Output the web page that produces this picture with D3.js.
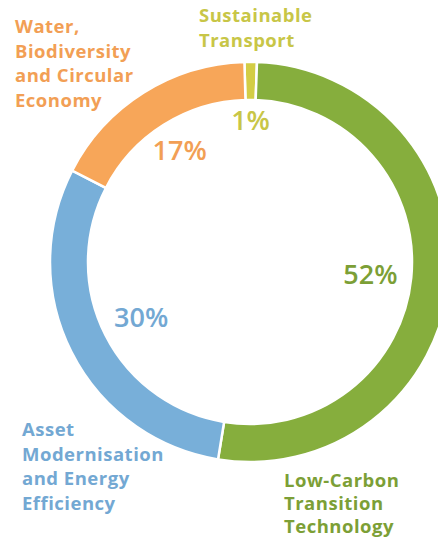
<!DOCTYPE html>
<html>
<head>
<meta charset="utf-8">
<script src="https://cdn.jsdelivr.net/npm/d3@7"></script>
<style>
  body { margin: 0; background: #fff; }
  svg { display: block; }
</style>
</head>
<body>
<div class="chart"></div>
<script>
// slices, clockwise from the top
const categories = ["Sustainable Transport", "Low-Carbon Transition Technology",
  "Asset Modernisation and Energy Efficiency", "Water, Biodiversity and Circular Economy"];
const shares = [1, 52, 30, 17];
const pctLabels = ["1%", "52%", "30%", "17%"];
const labelLines = [
  ["Sustainable", "Transport"],
  ["Low-Carbon", "Transition", "Technology"],
  ["Asset", "Modernisation", "and Energy", "Efficiency"],
  ["Water,", "Biodiversity", "and Circular", "Economy"]
];

const width = 438;
const height = 537;
const cx = 250, cy = 262;
const outerR = 200, innerR = 162;

const fills = ["#d3cd45", "#86ae3d", "#78afd9", "#f7a659"];
const textColors = ["#c8c647", "#7c9f36", "#73a8d3", "#f29f55"];

const svg = d3.select(".chart")
  .append("svg")
  .attr("width", width)
  .attr("height", height);

const data = categories.map((c, i) => ({name: c, value: shares[i], pct: pctLabels[i], lines: labelLines[i], i}));

const startA = -1.6 * Math.PI / 180;
const pie = d3.pie()
  .value(d => d.value)
  .sort(null)
  .startAngle(startA)
  .endAngle(startA + 2 * Math.PI);

const arc = d3.arc().innerRadius(innerR).outerRadius(outerR);

const g = svg.append("g").attr("transform", `translate(${cx},${cy})`);

g.selectAll("path")
  .data(pie(data))
  .join("path")
  .attr("d", arc)
  .attr("fill", d => fills[d.data.i])
  .attr("stroke", "#fff")
  .attr("stroke-width", 2.5);

// percentage labels inside the ring
const labelR = [142, 121, 122, 132];
g.selectAll("text.pct")
  .data(pie(data))
  .join("text")
  .attr("class", "pct")
  .attr("x", d => d3.arc().innerRadius(labelR[d.data.i]).outerRadius(labelR[d.data.i]).centroid(d)[0])
  .attr("y", d => d3.arc().innerRadius(labelR[d.data.i]).outerRadius(labelR[d.data.i]).centroid(d)[1])
  .attr("dy", "0.36em")
  .attr("text-anchor", "middle")
  .attr("font-family", "'Open Sans', sans-serif")
  .attr("font-weight", 600)
  .attr("font-size", 27)
  .attr("fill", d => textColors[d.data.i])
  .text(d => d.data.pct);

// category labels around the ring
const labelPos = [[199, 22], [284, 487], [22, 436], [15, 33]];
const lineGap = [24.5, 23, 24.5, 24.5];
svg.selectAll("text.cat")
  .data(data)
  .join("text")
  .attr("class", "cat")
  .attr("font-family", "'Open Sans', sans-serif")
  .attr("font-weight", 700)
  .attr("font-size", 18.5)
  .attr("letter-spacing", 0.5)
  .attr("fill", d => textColors[d.i])
  .each(function(d) {
    const t = d3.select(this);
    d.lines.forEach((line, k) => {
      t.append("tspan")
        .attr("x", labelPos[d.i][0])
        .attr("y", labelPos[d.i][1] + k * lineGap[d.i])
        .text(line);
    });
  });
</script>
</body>
</html>
